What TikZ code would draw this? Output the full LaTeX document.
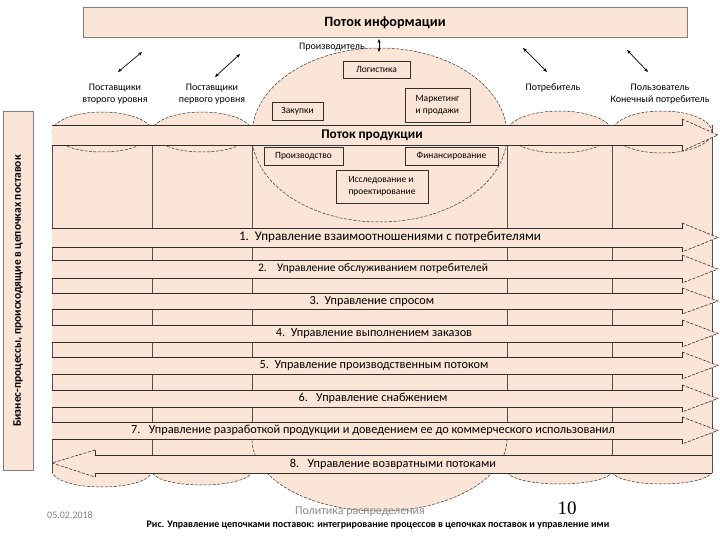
\documentclass[tikz,border=0pt]{standalone}
\usepackage{fontspec}
\setmainfont{Carlito}
\newfontfamily\numfont{Liberation Serif}
\usetikzlibrary{arrows.meta,shadows}
\definecolor{peach}{HTML}{FBE5D6}
\definecolor{edgec}{HTML}{303030}
\definecolor{colline}{HTML}{505050}
\definecolor{boxgray}{HTML}{7F7F7F}
\newcommand\RBand[5]{%
  \fill[peach] (52,#1) -- (682,#1) -- (682,#1-5) -- (718,{(#1+#2)/2}) -- (682,#2+5) -- (682,#2) -- (52,#2) -- cycle;
  \draw[bandline] (52,#1) -- (682,#1) -- (682,#1-5);
  \draw[headline] (682,#1-5) -- (718,{(#1+#2)/2}) -- (682,#2+5);
  \draw[bandline] (682,#2+5) -- (682,#2) -- (52,#2);
  \node[bandtext] (#3) at (#4,{(#1+#2)/2}) {#5};
}
\begin{document}
\begin{tikzpicture}[x=1pt,y=-1pt,
  infobox/.style={draw=boxgray, fill=peach, line width=1pt, inner sep=0pt},
  capshape/.style={fill=peach, draw=edgec, dash pattern=on 3pt off 1.5pt, line width=0.5pt},
  bandline/.style={draw=edgec, line width=0.8pt},
  headline/.style={draw=edgec, dash pattern=on 3pt off 1.5pt, line width=0.6pt},
  bandtext/.style={font=\fontsize{12.3}{14}\selectfont, inner sep=0pt},
  colstroke/.style={draw=colline, line width=0.6pt},
  ibox/.style={draw=edgec, fill=peach, line width=0.6pt, font=\fontsize{9.5}{12}\selectfont, inner sep=2pt,
     drop shadow={shadow xshift=0.8pt, shadow yshift=-0.8pt, fill=black!55, opacity=1}},
  lbl/.style={font=\fontsize{10}{12}\selectfont, align=center, inner sep=0pt},
  dbl/.style={{Stealth[length=4pt,width=3.2pt]}-{Stealth[length=4pt,width=3.2pt]}, line width=0.7pt, draw=black}
]
\useasboundingbox (0,0) rectangle (720,540);
\fill[white] (0,0) rectangle (720,540);

% information flow box
\node[infobox, minimum width=604, minimum height=30, font=\bfseries\fontsize{14.2}{16}\selectfont] (info) at (385,23) {Поток информации};

% left vertical box
\node[infobox, rotate=90, minimum width=358, minimum height=30, font=\bfseries\fontsize{11.5}{13}\selectfont] (lbox) at (18,291) {Бизнес-процессы, происходящие в цепочках поставок};

% body background
\fill[peach] (52,125) rectangle (712,473);

% top caps
\filldraw[capshape] (102,132) ellipse [x radius=50, y radius=20];
\filldraw[capshape] (202,132) ellipse [x radius=50, y radius=20];
\filldraw[capshape] (379.5,135) ellipse [x radius=127.5, y radius=87];
\filldraw[capshape] (559.5,132) ellipse [x radius=52.5, y radius=21];
\filldraw[capshape] (662,132) ellipse [x radius=50, y radius=21];

% bottom caps
\begin{scope}
\clip (0,473) rectangle (720,540);
\filldraw[capshape] (102,471) ellipse [x radius=50, y radius=16];
\filldraw[capshape] (202,471) ellipse [x radius=50, y radius=14];
\filldraw[capshape] (559.5,471) ellipse [x radius=52.5, y radius=13];
\filldraw[capshape] (662,471) ellipse [x radius=50, y radius=13];
\end{scope}
\begin{scope}
\clip (0,439) rectangle (720,540);
\filldraw[capshape] (379.5,439) ellipse [x radius=127.5, y radius=72];
\end{scope}

% body edges and column lines
\draw[colstroke] (52,125) -- (52,473);
\draw[colstroke] (712,125) -- (712,473);
\draw[colstroke] (152,145) -- (152,473);
\draw[colstroke] (612,145) -- (612,473);
\draw[colstroke] (252,145) -- (252,439);
\draw[colstroke] (507,145) -- (507,439);

% product flow
\fill[peach] (52,125) -- (682,125) -- (682,119) -- (718,135) -- (682,151) -- (682,145) -- (52,145) -- cycle;
\draw[bandline] (52,125) -- (682,125) -- (682,119);
\draw[headline] (682,119) -- (718,135) -- (682,151);
\draw[bandline] (682,151) -- (682,145) -- (52,145);
\node[font=\bfseries\fontsize{13.3}{15}\selectfont, inner sep=0pt] (pflow) at (372,135) {Поток продукции};

% process bands
\RBand{228}{247}{b1}{390}{\fontsize{13.1}{15}\selectfont 1.\ \ Управление взаимоотношениями с потребителями}
\RBand{260}{278}{b2}{373}{\fontsize{11.5}{14}\selectfont 2.\ \ \ \ Управление обслуживанием потребителей}
\RBand{293}{309}{b3}{372}{3.\ \ Управление спросом}
\RBand{325}{342}{b4}{374}{4.\ \ Управление выполнением заказов}
\RBand{357}{374}{b5}{374}{5.\ \ Управление производственным потоком}
\RBand{390}{407}{b6}{373}{6.\ \ \ Управление снабжением}
\RBand{422}{439}{b7}{373}{7.\ \ \ Управление разработкой продукции и доведением ее до коммерческого использованил}

% return flow (left pointing)
\fill[peach] (712,455) -- (95,455) -- (95,450) -- (52,463) -- (95,477) -- (95,473) -- (712,473) -- cycle;
\draw[bandline] (712,455) -- (95,455) -- (95,450);
\draw[headline] (95,450) -- (52,463) -- (95,477);
\draw[bandline] (95,477) -- (95,473) -- (712,473);
\draw[colstroke] (712,455) -- (712,473);
\node[bandtext] (b8) at (393,464) {8.\ \ \ Управление возвратными потоками};

% boxes inside manufacturer
\node[ibox, minimum width=67, minimum height=17] (logist) at (376.5,69.5) {Логистика};
\node[ibox, minimum width=51, minimum height=18] (zakup) at (297.5,111) {Закупки};
\node[ibox, minimum width=65, minimum height=34, align=left] (market) at (437.5,105) {Маркетинг\\и продажи};
\node[ibox, minimum width=79, minimum height=18] (proizv) at (303.5,156) {Производство};
\node[ibox, minimum width=93, minimum height=18] (finans) at (451.5,156) {Финансирование};
\node[ibox, minimum width=92, minimum height=33, align=left] (issled) at (382,186.5) {Исследование и\\проектирование};

% labels
\node[lbl] (manuf) at (332,47) {Производитель};
\node[lbl] (sup2) at (115,94) {Поставщики\\второго уровня};
\node[lbl] (sup1) at (212,94) {Поставщики\\первого уровня};
\node[lbl] (cons) at (553,88) {Потребитель};
\node[lbl] (user) at (660,94) {Пользователь\\Конечный потребитель};

% information arrows
\coordinate (m1) at (379,39);
\coordinate (m2) at (379,52);
\coordinate (l1a) at (118,72);
\coordinate (l1b) at (142,52);
\coordinate (l2a) at (215,77);
\coordinate (l2b) at (240,54);
\coordinate (r1a) at (523,48);
\coordinate (r1b) at (547,72);
\coordinate (r2a) at (627,50);
\coordinate (r2b) at (648,72);
\draw[dbl] (m1) -- (m2);
\draw[dbl] (l1a) -- (l1b);
\draw[dbl] (l2a) -- (l2b);
\draw[dbl] (r1a) -- (r1b);
\draw[dbl] (r2a) -- (r2b);

% footer
\node[text=gray, font=\fontsize{10}{12}\selectfont, inner sep=0pt] (date) at (70,515) {05.02.2018};
\node[text=gray!90, font=\fontsize{12}{14}\selectfont, inner sep=0pt] (pol) at (360,512) {Политика распределения};
\node[font=\bfseries\fontsize{10}{11}\selectfont, inner sep=0pt] (figcap) at (378,525) {Рис. Управление цепочками поставок: интегрирование процессов в цепочках поставок и управление ими};
\node[font=\numfont\fontsize{19}{21}\selectfont, inner sep=0pt] (pnum) at (567,508) {10};
\end{tikzpicture}
\end{document}
